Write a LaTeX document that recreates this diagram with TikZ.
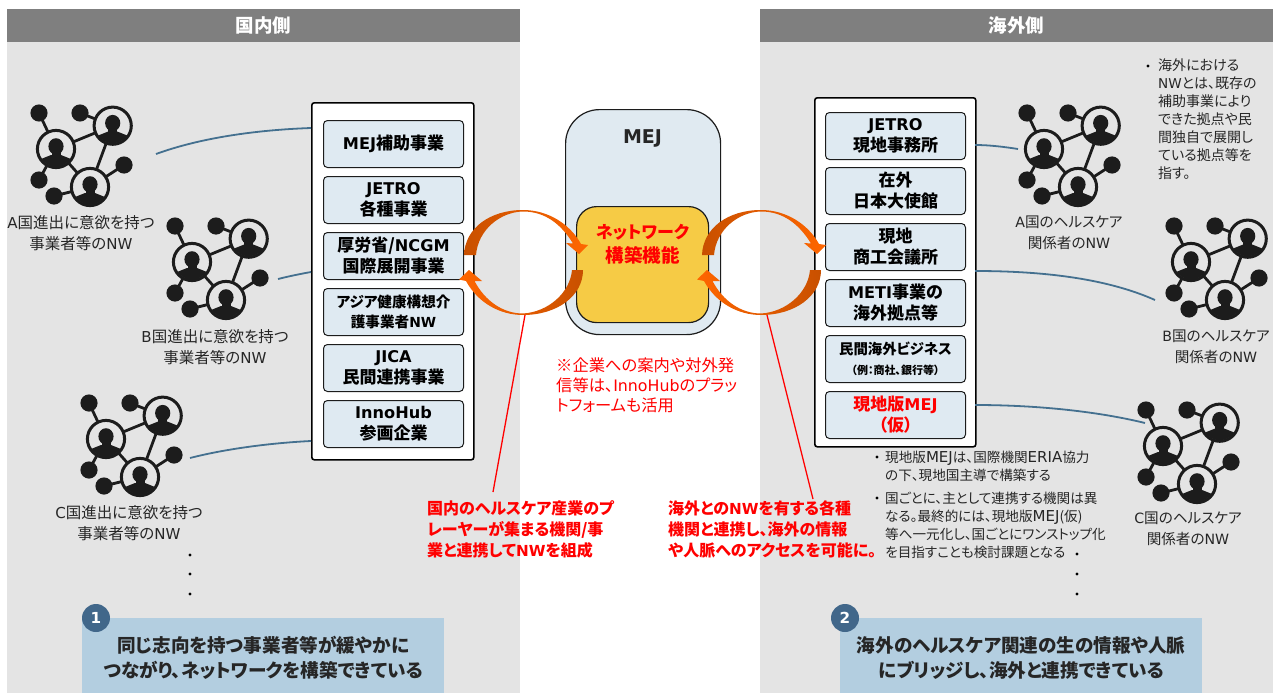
\documentclass[tikz,border=0pt]{standalone}
\usepackage{fontspec}
\setmainfont{Noto Sans CJK JP}[RawFeature=+palt]
\newfontfamily\latr{DejaVu Sans}[Scale=0.97]
\newfontfamily\latb{DejaVu Sans}[Scale=0.95]
\newcommand\Lr[1]{{\latr #1}}
\newcommand\Lb[1]{{\latb\bfseries #1}}
\newcommand\fs[2]{\fontsize{#1}{#2}\selectfont}
\newcommand\Ln[1]{{\latr\fs{15.5}{18}#1}}
\definecolor{panel}{HTML}{E4E4E4}
\definecolor{headg}{HTML}{7F7F7F}
\definecolor{boxb}{HTML}{DFEAF2}
\definecolor{mejb}{HTML}{E0EAF1}
\definecolor{yel}{HTML}{F6CB45}
\definecolor{call}{HTML}{B3CEE0}
\definecolor{navy}{HTML}{41678A}
\definecolor{link}{HTML}{44708F}
\definecolor{ink}{HTML}{262626}
\definecolor{icon}{HTML}{1C1C1C}
\definecolor{dk}{HTML}{C85000}
\definecolor{org}{HTML}{FF6600}
\newcommand\person[2]{% x y
  \begin{scope}
    \fill[panel] (#1,#2) circle (19.5);
    \draw[icon,line width=3] (#1,#2) circle (18.6);
    \clip (#1,#2) circle (17.5);
    \fill[icon] (#1-21,#2+22) -- (#1-20,#2+12) -- (#1-5,#2+6) -- (#1+5,#2+6) -- (#1+20,#2+12) -- (#1+21,#2+22) -- cycle;
    \fill[icon] (#1,#2-2.6) ellipse (7.6 and 8.2);
    \fill[icon] (#1-4.5,#2+2) rectangle (#1+4.5,#2+8);
  \end{scope}}
\tikzset{
  x=1pt,y=-1pt,
  netw/.pic={
    \draw[icon,line width=2.8] (26,44)--(82.7,20.7)--(60,82)--cycle;
    \draw[icon,line width=2.8] (9,8)--(26,44) (50,8)--(82.7,20.7) (94,60)--(60,82) (9,75)--(26,44) (24,91)--(60,82);
    \foreach \a/\b in {9/8,50/8,94/60,9/75,24/91}{\fill[icon] (\a,\b) circle (8.6);}
    \person{26}{44}
    \person{82.7}{20.7}
    \person{60}{82}
  },
  panelhead/.style={fill=headg,text=white,font=\fs{18.5}{20}\bfseries,minimum height=33pt,inner sep=0pt,anchor=north west},
  panelbody/.style={fill=panel,inner sep=0pt,anchor=north west,minimum height=651pt,minimum width=513pt},
  outerbox/.style={draw=black,fill=white,line width=1.6pt,rounded corners=2.5pt,inner sep=0pt,anchor=north west},
  innerbox/.style={draw=icon,fill=boxb,line width=1pt,rounded corners=4pt,inner sep=0pt,anchor=north west,minimum width=140pt,minimum height=47pt,align=center,font=\fs{17}{21}\bfseries,text=black},
  lab/.style={align=center,font=\fs{15.5}{21},text=ink,inner sep=0pt},
  labr/.style={lab,font=\fs{14.6}{21}},
  note/.style={align=left,font=\fs{14}{18},text=ink,inner sep=0pt,anchor=north west},
  noteb/.style={note,font=\fs{13.6}{18}},
  redc/.style={align=left,font=\fs{16}{21}\bfseries,text=red,inner sep=0pt,anchor=north west},
  linkline/.style={link,line width=1.8pt},
  redline/.style={red,line width=1.3pt},
  callout/.style={fill=call,inner sep=0pt,anchor=north west,minimum width=362pt,minimum height=75pt,align=center,font=\fs{18.6}{25}\bfseries,text=ink},
  numdot/.style={circle,fill=navy,text=white,font=\fs{16}{18}\bfseries,minimum size=28pt,inner sep=0pt},
  vdot/.style={fill=black,circle,inner sep=0pt,minimum size=3.2pt},
}
\newcommand\ringarrows{%
  \shade[left color=dk,middle color=org,right color=org]
    (464,255) .. controls (465,228) and (490,210) .. (523,210)
    .. controls (548,210) and (570,224) .. (581,244) -- (588,245) -- (579,254) -- (566,243) -- (573,243.5)
    .. controls (561,224) and (545,211.5) .. (523,211.5)
    .. controls (500,212) and (478,230) .. (476,255) -- cycle;
  \shade[left color=org,middle color=org,right color=dk]
    (583,270) .. controls (583,296) and (557,315) .. (523,315)
    .. controls (500,315) and (478,303) .. (466,281) -- (459,279.5) -- (469,270) -- (482,281) -- (474.5,281)
    .. controls (485,301) and (503,313.5) .. (523,313.5)
    .. controls (548,312) and (570,293) .. (572,270) -- cycle;
}
\begin{document}
\begin{tikzpicture}
\useasboundingbox (0,0) rectangle (1277,693);
\fill[white] (0,0) rectangle (1277,693);
% panels
\node[panelbody] (pl) at (7,42) {};
\node[panelbody] (pr) at (760,42) {};
\node[panelhead,minimum width=513pt] (hl) at (7,9) {国内側};
\node[panelhead,minimum width=513pt] (hr) at (760,9) {海外側};
% outer boxes
\node[outerbox,minimum width=162pt,minimum height=357pt] (ol) at (311,102) {};
\node[outerbox,minimum width=161pt,minimum height=349pt] (or) at (814,97) {};
% connector ends
\coordinate (a1) at (156,154); \coordinate (a2) at (311,128);
\coordinate (b1) at (278,279); \coordinate (b2) at (311,272);
\coordinate (c1) at (190,458); \coordinate (c2) at (311,441);
\coordinate (d1) at (1018,149); \coordinate (d2) at (975,145);
\coordinate (e1) at (1155,300); \coordinate (e2) at (975,271);
\coordinate (f1) at (1145,423); \coordinate (f2) at (975,405);
\draw[linkline] (a1) .. controls (200,138) and (255,130) .. (a2);
\draw[linkline] (b1) .. controls (290,276) and (300,274) .. (b2);
\draw[linkline] (c1) .. controls (225,449) and (270,443) .. (c2);
\draw[linkline] (d2) .. controls (990,145) and (1005,147) .. (d1);
\draw[linkline] (e2) .. controls (1050,271) and (1110,280) .. (e1);
\draw[linkline] (f2) .. controls (1040,405) and (1100,412) .. (f1);
% left boxes
\node[innerbox] (l1) at (323,120) {\Lb{MEJ}補助事業};
\node[innerbox] (l2) at (323,176) {\Lb{JETRO}\\各種事業};
\node[innerbox] (l3) at (323,232) {厚労省/\Lb{NCGM}\\国際展開事業};
\node[innerbox,font=\fs{14.6}{20}\bfseries] (l4) at (323,288) {アジア健康構想介\\護事業者\Lb{NW}};
\node[innerbox] (l5) at (323,344) {\Lb{JICA}\\民間連携事業};
\node[innerbox] (l6) at (323,400) {\Lb{InnoHub}\\参画企業};
% right boxes
\node[innerbox] (r1) at (825,112) {\Lb{JETRO}\\現地事務所};
\node[innerbox] (r2) at (825,167) {在外\\日本大使館};
\node[innerbox] (r3) at (825,223) {現地\\商工会議所};
\node[innerbox] (r4) at (825,279) {\Lb{METI}事業の\\海外拠点等};
\node[innerbox,align=center] (r5) at (825,335) {{\fs{14.4}{19}\bfseries 民間海外ビジネス}\\[-1pt]{\fs{11}{14}\bfseries （例：商社、銀行等）}};
\node[innerbox,text=red] (r6) at (825,391) {現地版\Lb{MEJ}\\（仮）};
% MEJ
\node[draw=icon,fill=mejb,line width=1.2pt,rounded corners=34pt,minimum width=155pt,minimum height=225pt,inner sep=0pt,anchor=north west] (mej) at (565,109) {};
\node[font=\fs{20}{20}\bfseries,text=ink,inner sep=0pt] (mejt) at (642.5,138) {\Lb{MEJ}};
\node[draw=icon,fill=yel,line width=1.2pt,rounded corners=20pt,minimum width=132pt,minimum height=116pt,inner sep=0pt,anchor=north west] (core) at (576,206) {};
\node[font=\fs{18.5}{24}\bfseries,text=red,align=center,inner sep=0pt] (coret) at (642.5,244) {{\fs{17}{24}\bfseries ネットワーク}\\構築機能};
% arrows
\ringarrows
\begin{scope}[xshift=238pt]\ringarrows\end{scope}
% red lines
\coordinate (p1) at (525,315); \coordinate (p2) at (493,492);
\coordinate (q1) at (767,315); \coordinate (q2) at (813,499);
\draw[redline] (p1) -- (p2);
\draw[redline] (q1) -- (q2);
% icons
\pic at (30,105) {netw};
\pic at (166,218) {netw};
\pic at (80,395) {netw};
\pic at (1018,105) {netw};
\pic at (1165,218) {netw};
\pic at (1137,402) {netw};
% icon labels
\node[lab] (la) at (81,233) {\Lr{A}国進出に意欲を持つ\\事業者等の\Lr{NW}};
\node[lab] (lb) at (215,347) {\Lr{B}国進出に意欲を持つ\\事業者等の\Lr{NW}};
\node[lab] (lc) at (129,523) {\Lr{C}国進出に意欲を持つ\\事業者等の\Lr{NW}};
\node[labr] (ra) at (1069,233) {\Lr{A}国のヘルスケア\\関係者の\Lr{NW}};
\node[labr] (rb) at (1216,347) {\Lr{B}国のヘルスケア\\関係者の\Lr{NW}};
\node[labr] (rc) at (1188,529) {\Lr{C}国のヘルスケア\\関係者の\Lr{NW}};
% notes
\node[vdot] (n0) at (1148,66) {};
\node[note] (n1) at (1158,59) {海外における\\\Lr{NW}とは、既存の\\補助事業により\\できた拠点や民\\間独自で展開し\\ている拠点等を\\指す。};
\node[vdot] (n2) at (877,457) {};
\node[noteb] (n3) at (885,451) {現地版\Ln{MEJ}は、国際機関\Ln{ERIA}協力\\の下、現地国主導で構築する};
\node[vdot] (n4) at (877,498) {};
\node[noteb] (n5) at (885,492) {国ごとに、主として連携する機関は異\\なる。最終的には、現地版\Ln{MEJ}(仮)\\等へ一元化し、国ごとにワンストップ化\\を目指すことも検討課題となる};
% red texts
\node[align=left,font=\fs{16.3}{20},text=red,inner sep=0pt,anchor=north west] (rn) at (556,358) {※企業への案内や対外発\\信等は、\Lr{InnoHub}のプラッ\\トフォームも活用};
\node[redc] (rl) at (427,500) {国内のヘルスケア産業のプ\\レーヤーが集まる機関/事\\業と連携して\Lb{NW}を組成};
\node[redc] (rr) at (668,500) {海外との\Lb{NW}を有する各種\\機関と連携し、海外の情報\\や人脈へのアクセスを可能に。};
% dots
\node[vdot] (u1) at (190,555) {}; \node[vdot] (u2) at (190,574) {}; \node[vdot] (u3) at (190,594) {};
\node[vdot] (v1) at (1077,554) {}; \node[vdot] (v2) at (1077,574) {}; \node[vdot] (v3) at (1077,594) {};
% callouts
\node[callout] (cl) at (82,620) {同じ志向を持つ事業者等が緩やかに\\つながり、ネットワークを構築できている};
\node[callout] (cr) at (840,620) {海外のヘルスケア関連の生の情報や人脈\\にブリッジし、海外と連携できている};
\fill[call] (82,618) rectangle (444,621);
\fill[call] (840,618) rectangle (1202,621);
\node[numdot] (d1n) at (96,618) {\Lb{1}};
\node[numdot] (d2n) at (845,618) {\Lb{2}};
\end{tikzpicture}
\end{document}
